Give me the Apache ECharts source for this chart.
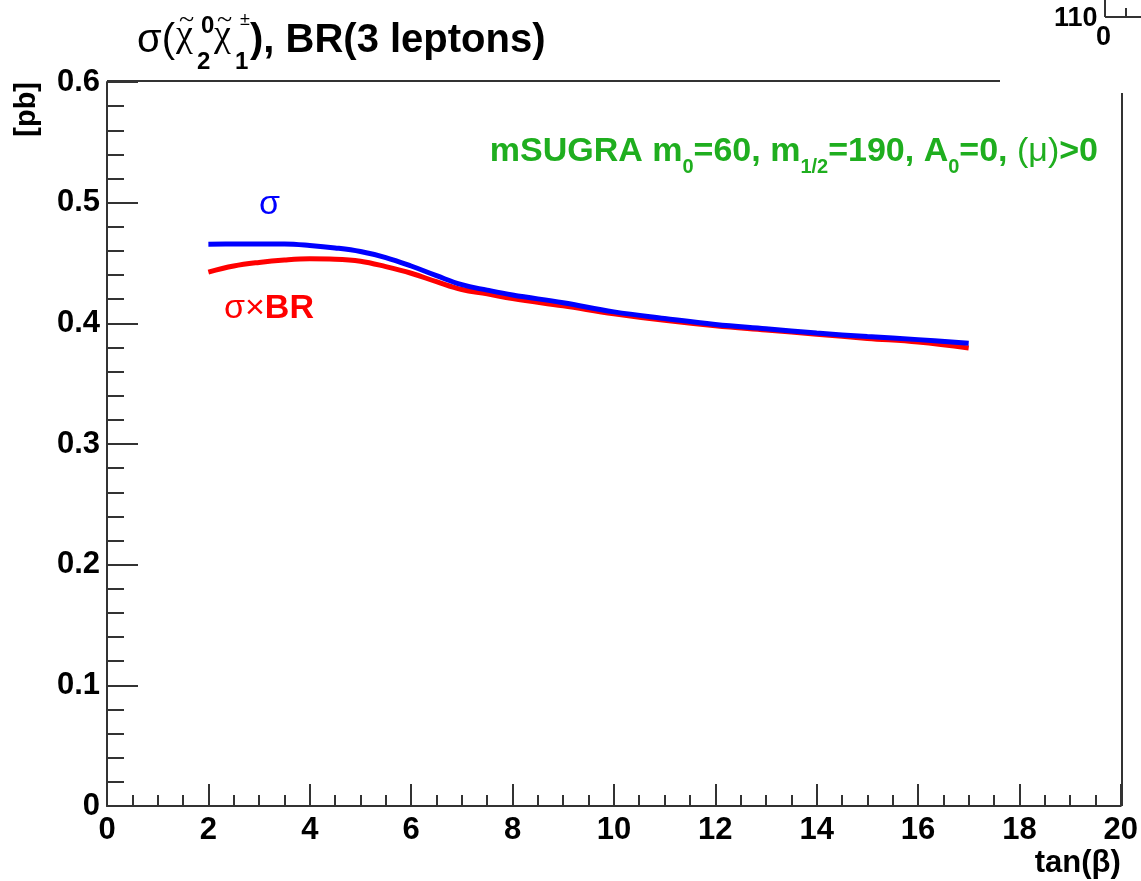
<!DOCTYPE html>
<html><head><meta charset="utf-8">
<script src="https://cdn.jsdelivr.net/npm/echarts@6/dist/echarts.min.js"></script>
<style>html,body{margin:0;padding:0;background:#fff}#c{width:1141px;height:881px}</style>
</head><body><div id="c"></div>
<script>
// tan(beta) values
const tanBeta = [2, 2.5, 3, 3.5, 4, 4.5, 5, 5.5, 6, 6.5, 7, 7.5, 8, 9, 10, 11, 12, 13, 14, 15, 16, 17];
// sigma [pb]
const sigma = [0.4655, 0.4657, 0.4658, 0.4657, 0.4645, 0.4625, 0.4595, 0.4545, 0.4475, 0.4395, 0.432, 0.4275, 0.4235, 0.417, 0.4095, 0.404, 0.399, 0.3955, 0.392, 0.389, 0.3865, 0.3835];
// sigma x BR [pb]
const sigmaBR = [0.4425, 0.4475, 0.4505, 0.4525, 0.4535, 0.4532, 0.4515, 0.447, 0.4415, 0.4345, 0.428, 0.4245, 0.4205, 0.4145, 0.408, 0.4025, 0.398, 0.3945, 0.391, 0.3875, 0.3845, 0.3795];

const F = '"Liberation Sans", Arial, Helvetica, sans-serif';
const FS = '"Liberation Serif", "Times New Roman", serif';
const G = {left: 107, top: 82, right: 20, bottom: 75};
const W = 1141, H = 881;
const axisCol = '#333';
const green = '#1fae1f';

const chart = echarts.init(document.getElementById('c'), null, {renderer: 'canvas'});
const pair = (xs, ys) => xs.map((x, i) => [x, ys[i]]);

function txt(x, y, s, font, fill, extra) {
  return Object.assign({type: 'text', x: x, y: y, style: {text: s, font: font, fill: fill || '#000', textVerticalAlign: 'top'}}, extra || {});
}

chart.setOption({
  animation: false,
  grid: G,
  xAxis: {
    type: 'value', min: 0, max: 20, interval: 2,
    axisLine: {show: true, lineStyle: {color: axisCol, width: 2}},
    axisTick: {show: true, inside: true, length: 22, lineStyle: {color: axisCol, width: 2}},
    minorTick: {show: true, splitNumber: 4, length: 11, lineStyle: {color: axisCol, width: 2}},
    splitLine: {show: false},
    axisLabel: {fontFamily: F, fontWeight: 'bold', fontSize: 31, color: '#000', margin: 9},
    name: 'tan(β)', nameLocation: 'end', nameGap: 0,
    nameTextStyle: {fontFamily: F, fontWeight: 'bold', fontSize: 31, color: '#000', align: 'right', verticalAlign: 'top', padding: [42, 0, 0, 0]}
  },
  yAxis: {
    type: 'value', min: 0, max: 0.6, interval: 0.1,
    axisLine: {show: true, lineStyle: {color: axisCol, width: 2}},
    axisTick: {show: true, inside: true, length: 31, lineStyle: {color: axisCol, width: 2}},
    minorTick: {show: true, splitNumber: 5, length: 17, lineStyle: {color: axisCol, width: 2}},
    splitLine: {show: false},
    axisLabel: {fontFamily: F, fontWeight: 'bold', fontSize: 31, color: '#000', margin: 7,
      formatter: v => v === 0 ? '0' : v.toFixed(1)},
    name: '[pb]', nameLocation: 'end', nameRotate: 90, nameGap: 0,
    nameTextStyle: {fontFamily: F, fontWeight: 'bold', fontSize: 29, color: '#000', align: 'right', verticalAlign: 'bottom', padding: [0, 0, 66, 0]}
  },
  series: [
    {type: 'line', name: 'σ', data: pair(tanBeta, sigma), smooth: 0.4, showSymbol: false,
     lineStyle: {color: '#0000ff', width: 5}, z: 3},
    {type: 'line', name: 'σ×BR', data: pair(tanBeta, sigmaBR), smooth: 0.4, showSymbol: false,
     lineStyle: {color: '#ff0000', width: 5}, z: 2}
  ],
  graphic: [
    // frame pieces
    {type: 'line', shape: {x1: G.left, y1: G.top - 1, x2: 1000, y2: G.top - 1}, style: {stroke: axisCol, lineWidth: 2}},
    {type: 'line', shape: {x1: W - G.right + 1, y1: 93, x2: W - G.right + 1, y2: H - G.bottom}, style: {stroke: axisCol, lineWidth: 2}},
    // top-right stray axis
    {type: 'line', shape: {x1: 1105, y1: 0, x2: 1105, y2: 17}, style: {stroke: axisCol, lineWidth: 2}},
    {type: 'line', shape: {x1: 1105, y1: 17, x2: 1141, y2: 17}, style: {stroke: axisCol, lineWidth: 2}},
    {type: 'line', shape: {x1: 1126, y1: 8, x2: 1126, y2: 17}, style: {stroke: axisCol, lineWidth: 2}},
    txt(1054, 5, '110', 'bold 27px ' + F),
    txt(1096, 24, '0', 'bold 27px ' + F),
    // title
    txt(137, 21, 'σ(', '40px ' + F),
    txt(176, 17, 'χ', '38px ' + FS),
    txt(179, 7, '~', '28px ' + FS),
    txt(201, 14, '0', 'bold 24px ' + F),
    txt(197, 50, '2', 'bold 24px ' + F),
    txt(214, 17, 'χ', '38px ' + FS),
    txt(217, 7, '~', '28px ' + FS),
    txt(240, 11, '±', '18px ' + F),
    txt(235, 50, '1', 'bold 24px ' + F),
    txt(250, 21, '), BR(3 leptons)', 'bold 40px ' + F),
    // annotation
    {type: 'text', x: 1098, y: 127, style: {
      text: 'mSUGRA m{s|0}=60, m{s|1/2}=190, A{s|0}=0, {r|(μ)}>0',
      font: 'bold 34px ' + F, fill: green, textAlign: 'right', textVerticalAlign: 'top',
      rich: {s: {font: 'bold 20px ' + F, fill: green, padding: [30, 0, 0, 0]},
             r: {font: '34px ' + F, fill: green}}
    }},
    txt(259, 188, 'σ', '34px ' + F, '#0000ff'),
    {type: 'text', x: 224, y: 292, style: {text: 'σ×{b|BR}', font: '34px ' + F, fill: '#ff0000', textVerticalAlign: 'top',
      rich: {b: {font: 'bold 34px ' + F, fill: '#ff0000'}}}}
  ]
});
</script></body></html>
